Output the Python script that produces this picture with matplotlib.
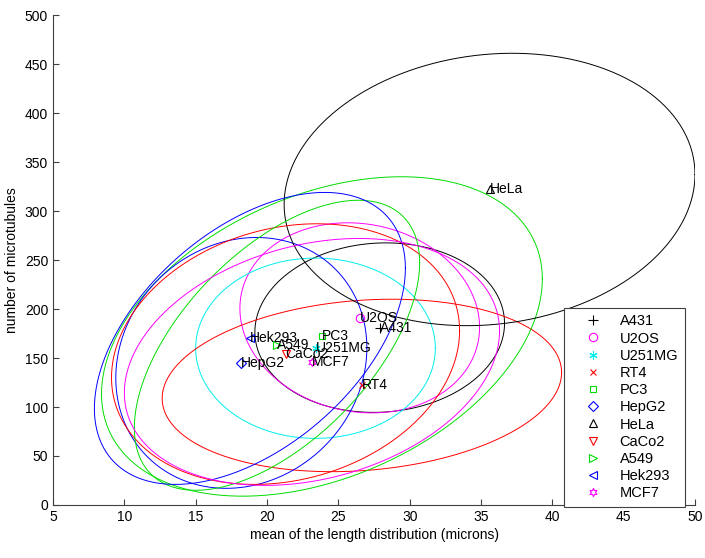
import numpy as np
import matplotlib
matplotlib.use('Agg')
import matplotlib.pyplot as plt

plt.rcParams['font.family'] = ['Liberation Sans', 'DejaVu Sans']

# cell lines: mean length (microns), number of microtubules, spread of both and correlation
names    = ['A431', 'U2OS', 'U251MG', 'RT4', 'PC3', 'HepG2', 'HeLa', 'CaCo2', 'A549', 'Hek293', 'MCF7']
mean_len = [27.9, 26.5, 23.4, 26.65, 23.85, 18.2, 35.6, 21.3, 20.7, 18.8, 23.15]
n_mt     = [181, 191, 160, 122, 172, 145, 322, 154, 163, 170, 146]
sd_len   = [8.75, 8.4, 8.4, 14.0, 15.45, 8.8, 14.4, 12.2, 10.0, 10.9, 13.15]
sd_mt    = [86.5, 97, 92, 88, 163, 128, 139, 133, 148, 149, 126]
corr     = [0.05, -0.1, 0.0, 0.15, 0.36, 0.12, 0.11, 0.18, 0.57, 0.48, 0.25]

colors  = ['k', '#ff00ff', '#00eeee', '#ff0000', '#00dd00', '#0000ff',
           'k', '#ff0000', '#00dd00', '#0000ff', '#ff00ff']
markers = ['+', 'o', (6, 2, 0), 'x', 's', 'D', '^', 'v', '>', '<', (6, 1, 0)]
msizes  = [7, 6, 6, 5, 5, 5, 6, 6, 6, 6, 6]

fig = plt.figure(figsize=(7.05, 5.58), dpi=100)
ax = fig.add_axes([0.0752, 0.095, 0.9106, 0.878])

t = np.linspace(0, 2*np.pi, 300)
for i in range(len(names)):
    ex = mean_len[i] + sd_len[i]*np.cos(t)
    ey = n_mt[i] + sd_mt[i]*(corr[i]*np.cos(t) + np.sqrt(1 - corr[i]**2)*np.sin(t))
    ax.plot(ex, ey, color=colors[i], lw=0.7)

for i in range(len(names)):
    ax.plot(mean_len[i], n_mt[i], linestyle='none', marker=markers[i], color=colors[i],
            markerfacecolor='none', markersize=msizes[i], markeredgewidth=0.8, label=names[i])
    ax.text(mean_len[i], n_mt[i], names[i], ha='left', va='center', fontsize=10)

ax.set_xlim(5, 50)
ax.set_ylim(0, 500)
ax.set_xticks(np.arange(5, 51, 5))
ax.set_yticks(np.arange(0, 501, 50))
ax.spines['top'].set_visible(False)
ax.spines['right'].set_visible(False)
for s in ['left', 'bottom']:
    ax.spines[s].set_color('#404040')
    ax.spines[s].set_linewidth(0.8)
ax.tick_params(direction='in', length=4, labelsize=10, colors='#404040', labelcolor='black')
ax.set_xlabel('mean of the length distribution (microns)', fontsize=10, labelpad=3)
ax.set_ylabel('number of microtubules', fontsize=10, labelpad=4)

leg = ax.legend(loc='lower right', bbox_to_anchor=(0.984, -0.004), borderaxespad=0,
                fontsize=10.5, fancybox=False, edgecolor='#404040', framealpha=1,
                handlelength=3.0, handletextpad=0.35, labelspacing=0.22, borderpad=0.45)
leg.get_frame().set_linewidth(0.8)

fig.savefig('out.png', dpi=100)
